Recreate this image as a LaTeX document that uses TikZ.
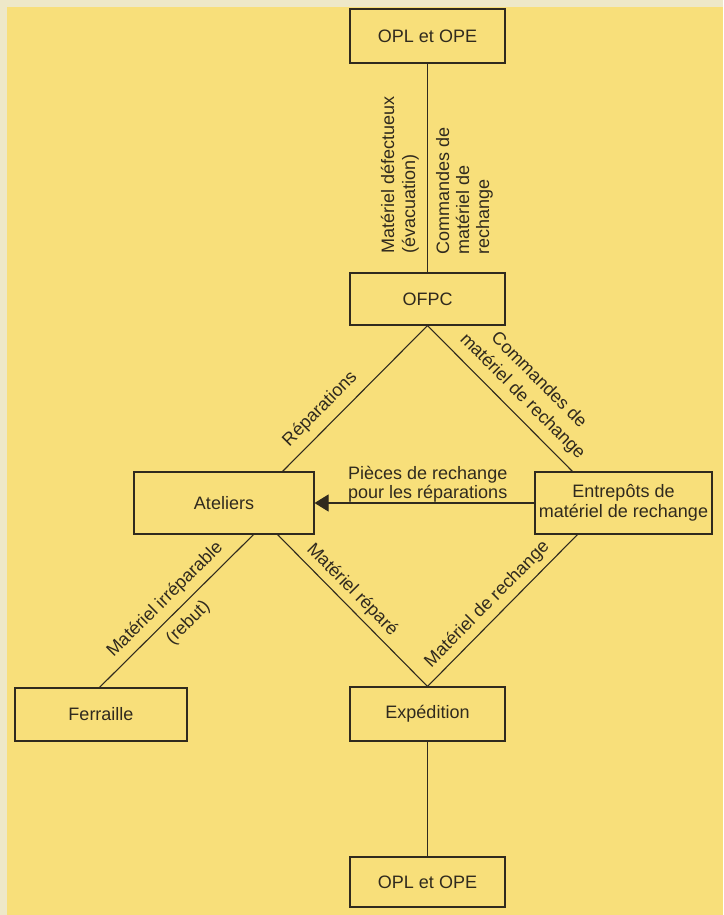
\documentclass[tikz,border=0pt]{standalone}
\usepackage{fontspec}
\setmainfont{Liberation Sans}
\usetikzlibrary{arrows.meta,calc}
\definecolor{bgyel}{RGB}{248,223,122}
\definecolor{pale}{RGB}{238,232,200}
\definecolor{ink}{RGB}{48,42,30}
\begin{document}
\begin{tikzpicture}[x=1pt,y=-1pt,
  box/.style={draw=ink, line width=1.1pt, inner sep=0pt, text=ink,
    font=\fontsize{18}{20}\selectfont, align=center},
  conn/.style={draw=ink, line width=1.1pt},
  lab/.style={text=ink, inner sep=0pt, font=\fontsize{18}{20}\selectfont}]
\useasboundingbox (0,0) rectangle (723,915);
\fill[bgyel] (0,0) rectangle (723,915);
\fill[pale] (0,0) rectangle (723,7);
\fill[pale] (0,0) rectangle (7,915);

% boxes
\node[box, minimum width=155pt, minimum height=54pt] (top) at (427.5,36) {OPL et OPE};
\node[box, minimum width=155pt, minimum height=52pt] (ofpc) at (427.5,299) {OFPC};
\node[box, minimum width=180pt, minimum height=62pt] (at) at (224,503) {Ateliers};
\node[box, minimum width=177pt, minimum height=62pt] (ent) at (623.5,503) {Entrep\^ots de\\mat\'eriel de rechange};
\node[box, minimum width=172pt, minimum height=53pt] (fer) at (101,714.5) {Ferraille};
\node[box, minimum width=155pt, minimum height=54pt] (exp) at (427.5,714) {Exp\'edition};
\node[box, minimum width=155pt, minimum height=50pt] (bot) at (427.5,882) {OPL et OPE};

% connectors
\draw[conn] (top.south) -- (ofpc.north);
\draw[conn] (ofpc.south) -- ([xshift=-32pt]at.north east)
  node[lab, pos=0.657, sloped, above=8pt] (lrep) {R\'eparations};
\draw[conn] (ofpc.south) -- ([xshift=38pt]ent.north west)
  node[lab, pos=0.57, sloped, above=8pt, align=center, font=\fontsize{18}{23}\selectfont] (lcmd) {Commandes de\\mat\'eriel de rechange};
\draw[conn] ([xshift=-61pt]at.south east) -- ([xshift=85pt]fer.north west)
  node[lab, pos=0.5, sloped, above=7pt] (lirr) {Mat\'eriel irr\'eparable}
  node[lab, pos=0.5, sloped, below=8pt] (lreb) {(rebut)};
\draw[conn] ([xshift=-37pt]at.south east) -- (exp.north)
  node[lab, pos=0.43, sloped, above=5pt] (lrepa) {Mat\'eriel r\'epar\'e};
\draw[conn] ([xshift=43pt]ent.south west) -- (exp.north)
  node[lab, pos=0.53, sloped, above=6pt] (lmdr) {Mat\'eriel de rechange};
\draw[conn] (exp.south) -- (bot.north);
\draw[conn, -{Triangle[length=14pt,width=17pt]}] (ent.west) -- (at.east);

% labels
\node[lab, rotate=90, anchor=south west, align=left, font=\fontsize{18}{21}\selectfont] (ldef) at (419,254) {Mat\'eriel d\'efectueux\\(\'evacuation)};
\node[lab, rotate=90, anchor=north west, align=left, font=\fontsize{18}{20}\selectfont] (lcom) at (436,255) {Commandes de\\mat\'eriel de\\rechange};
\node[lab, anchor=north west, align=left, font=\fontsize{18}{19}\selectfont] (lpie) at (348,466) {Pi\`eces de rechange\\pour les r\'eparations};
\end{tikzpicture}
\end{document}
